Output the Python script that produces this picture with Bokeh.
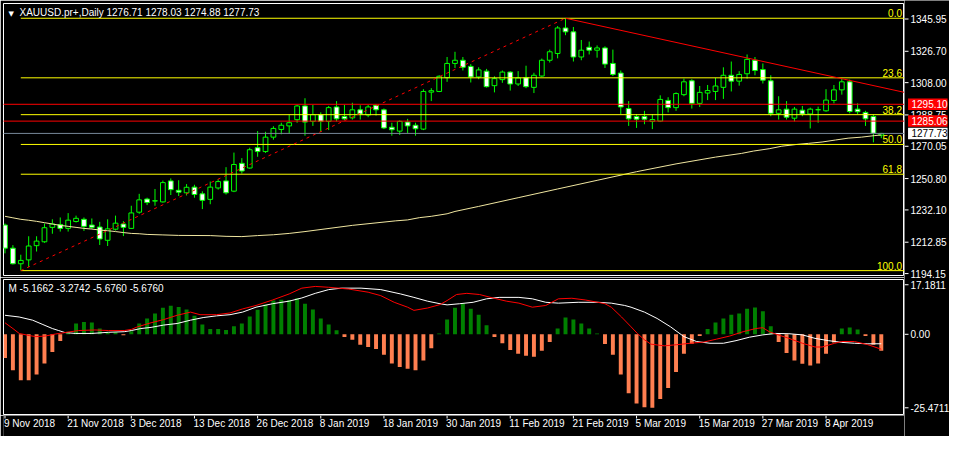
from bokeh.plotting import figure
from bokeh.models import Range1d, Label, LabelSet, ColumnDataSource
from bokeh.layouts import column, row
from bokeh.embed import file_html
from bokeh.resources import INLINE
from bokeh.core.properties import value

# ---------------- data ----------------
symbol_title = "XAUUSD.pr+,Daily  1276.71 1278.03 1274.88 1277.73"
macd_title = "M -5.1662 -3.2742 -5.6760 -5.6760"

opens = [1223.1, 1209.3, 1200.0, 1202.3, 1210.8, 1213.1, 1221.7, 1223.4, 1221.1, 1225.2,
         1226.5, 1223.1, 1221.9, 1214.0, 1220.6, 1223.7, 1221.1, 1230.75, 1238.6, 1237.4,
         1236.9, 1249.4, 1243.8, 1242.3, 1245.7, 1241.7, 1238.4, 1245.2, 1249.4, 1243.3,
         1259.9, 1257.1, 1269.2, 1266.9, 1275.5, 1280.1, 1282.2, 1285.9, 1294.1, 1284.9,
         1288.9, 1284.9, 1293.5, 1287.8, 1287.0, 1291.8, 1288.7, 1294.5, 1291.8, 1281.4,
         1279.1, 1284.5, 1282.6, 1280.3, 1302.35, 1302.75, 1311.0, 1319.45, 1321.35, 1317.7,
         1311.4, 1314.85, 1306.2, 1309.8, 1314.3, 1307.2, 1311.0, 1305.2, 1311.95, 1321.35,
         1325.4, 1340.6, 1338.3, 1323.3, 1329.1, 1327.35, 1328.7, 1319.45, 1313.7, 1292.55,
         1287.8, 1287.8, 1284.9, 1285.05, 1297.4, 1293.1, 1300.85, 1309.1, 1295.65, 1301.8,
         1302.75, 1305.2, 1312.4, 1308.9, 1313.3, 1321.35, 1315.8, 1309.1, 1289.7, 1292.2,
         1286.8, 1291.6, 1289.3, 1291.8, 1291.2, 1297.4, 1303.7, 1308.5, 1292.2, 1290.25,
         1287.8, 1276.71]
highs = [1224.0, 1211.1, 1205.4, 1216.4, 1216.4, 1224.0, 1226.5, 1227.6, 1230.2, 1228.7,
         1227.6, 1227.0, 1225.0, 1226.5, 1228.7, 1225.4, 1234.6, 1241.7, 1239.4, 1244.6,
         1249.6, 1250.9, 1249.8, 1247.5, 1247.1, 1243.2, 1249.0, 1250.3, 1257.6, 1266.3,
         1263.0, 1269.2, 1279.1, 1278.7, 1282.0, 1284.1, 1288.9, 1294.7, 1298.7, 1294.7,
         1290.3, 1294.1, 1297.0, 1294.7, 1296.0, 1294.5, 1294.7, 1295.1, 1292.6, 1284.1,
         1285.5, 1286.4, 1284.1, 1304.1, 1304.7, 1312.4, 1323.3, 1326.4, 1323.3, 1319.05,
         1317.15, 1316.2, 1311.8, 1315.25, 1314.85, 1314.85, 1318.1, 1313.9, 1322.35, 1327.7,
         1341.75, 1346.35, 1341.2, 1333.45, 1332.5, 1330.2, 1329.65, 1327.7, 1315.25, 1297.0,
         1289.3, 1291.2, 1289.3, 1300.45, 1299.3, 1302.2, 1310.4, 1310.05, 1306.0, 1306.6,
         1310.8, 1317.15, 1320.6, 1314.85, 1324.8, 1323.3, 1319.45, 1312.4, 1299.9, 1297.0,
         1293.5, 1294.1, 1293.1, 1293.7, 1304.1, 1306.6, 1310.4, 1309.8, 1295.65, 1291.2,
         1288.9, 1278.03]
lows = [1206.2, 1199.6, 1196.2, 1198.1, 1207.3, 1212.5, 1217.9, 1219.2, 1219.2, 1224.6,
        1219.6, 1220.8, 1211.2, 1210.6, 1219.8, 1216.5, 1220.8, 1229.8, 1235.0, 1234.6,
        1236.5, 1241.0, 1240.4, 1240.7, 1239.4, 1232.6, 1235.5, 1244.2, 1241.3, 1242.7,
        1253.8, 1256.7, 1263.8, 1266.1, 1274.0, 1277.2, 1277.8, 1284.1, 1276.4, 1282.2,
        1278.7, 1279.7, 1284.9, 1285.5, 1286.0, 1286.0, 1287.4, 1288.35, 1280.3, 1276.4,
        1276.8, 1278.0, 1276.4, 1279.7, 1297.0, 1302.35, 1308.5, 1316.75, 1315.25, 1308.1,
        1310.05, 1305.05, 1302.2, 1307.9, 1303.3, 1306.0, 1304.7, 1301.8, 1311.4, 1320.0,
        1322.5, 1336.3, 1320.6, 1321.35, 1324.8, 1322.9, 1316.75, 1311.95, 1289.3, 1282.2,
        1281.0, 1283.2, 1280.3, 1284.5, 1290.25, 1291.2, 1299.9, 1292.55, 1293.5, 1297.6,
        1297.6, 1298.3, 1302.75, 1306.2, 1310.4, 1312.4, 1307.5, 1288.0, 1286.0, 1286.0,
        1284.9, 1288.0, 1280.7, 1284.1, 1290.65, 1295.65, 1300.85, 1289.7, 1289.3, 1282.2,
        1272.4, 1274.88]
closes = [1209.3, 1200.0, 1202.0, 1210.6, 1213.5, 1221.5, 1223.7, 1221.1, 1226.0, 1227.1,
          1222.3, 1221.7, 1214.8, 1220.8, 1224.2, 1221.7, 1230.3, 1238.1, 1236.5, 1237.6,
          1248.4, 1244.2, 1242.7, 1245.6, 1241.3, 1237.8, 1245.7, 1249.0, 1242.3, 1259.2,
          1255.3, 1268.0, 1266.9, 1275.5, 1280.7, 1282.6, 1284.1, 1294.1, 1284.5, 1288.9,
          1284.9, 1293.1, 1286.4, 1286.4, 1291.8, 1289.3, 1293.5, 1291.8, 1281.0, 1279.9,
          1284.9, 1282.2, 1280.5, 1302.75, 1303.2, 1311.8, 1319.45, 1321.35, 1317.15, 1311.4,
          1315.6, 1305.6, 1310.4, 1314.3, 1307.2, 1310.8, 1305.6, 1312.4, 1321.35, 1326.4,
          1340.6, 1338.3, 1323.3, 1327.35, 1327.35, 1328.7, 1319.05, 1312.9, 1293.5, 1286.4,
          1286.2, 1286.2, 1286.0, 1298.0, 1293.1, 1301.5, 1308.5, 1295.65, 1302.2, 1303.3,
          1306.0, 1312.4, 1308.9, 1312.9, 1321.9, 1315.25, 1309.5, 1289.7, 1291.8, 1287.4,
          1292.2, 1289.3, 1292.2, 1291.9, 1297.6, 1303.7, 1308.5, 1290.8, 1290.65, 1286.4,
          1277.8, 1277.73]

date_ticks = [0, 8, 16, 24, 32, 40, 48, 56, 64, 72, 80, 88, 96, 104]
date_labels = ["9 Nov 2018", "21 Nov 2018", "3 Dec 2018", "13 Dec 2018", "26 Dec 2018",
               "8 Jan 2019", "18 Jan 2019", "30 Jan 2019", "11 Feb 2019", "21 Feb 2019",
               "5 Mar 2019", "15 Mar 2019", "27 Mar 2019", "8 Apr 2019"]
price_ticks = [1345.95, 1326.70, 1308.00, 1288.75, 1270.05, 1250.80, 1232.10, 1212.85, 1194.15]
price_tick_labels = ["1345.95", "1326.70", "1308.00", "1288.75", "1270.05", "1250.80",
                     "1232.10", "1212.85", "1194.15"]
macd_ticks = [17.1811, 0.0, -25.4711]
macd_tick_labels = ["17.1811", "0.00", "-25.4711"]

# moving average (bar index, price)
ma_x = [0, 1, 2, 3, 4, 5, 6, 7, 8, 9, 10, 11, 12, 13, 14, 15, 16, 17, 18, 20, 22, 26, 28, 30,
        32, 34, 36, 38, 44, 49.5, 51, 52.5, 54, 56, 57, 60, 65, 70, 75, 80, 85, 90, 93.3, 94.8,
        96.8, 98.4, 100.2, 101.8, 103.5, 105.2, 106.8, 108.5, 110.1, 111]
ma_y = [1228.3, 1227.4, 1226.5, 1225.95, 1225.3, 1224.5, 1223.7, 1222.9, 1222.3, 1221.7,
        1221.1, 1220.7, 1220.1, 1219.7, 1219.2, 1218.6, 1218.1, 1217.9, 1217.5, 1217.2,
        1216.9, 1216.8, 1216.35, 1216.2, 1216.8, 1217.3, 1218.1, 1219.2, 1222.9, 1225.6,
        1226.15, 1227.5, 1228.3, 1229.8, 1231.2, 1234.2, 1239.4, 1244.6, 1249.75, 1254.9,
        1259.55, 1263.6, 1265.8, 1267.2, 1268.6, 1270.1, 1271.1, 1271.8, 1272.6, 1273.8,
        1274.9, 1275.5, 1276.4, 1276.8]

hist = [-8.2, -12.5, -15.9, -15.9, -13.9, -10.1, -6.1, -2.3, 0.9, 3.75,
        4.3, 4.1, 2.0, 0.7, 0.7, -0.3, 1.1, 3.75, 5.5, 7.2,
        9.2, 9.9, 9.5, 8.6, 6.4, 3.4, 1.8, 1.8, 1.5, 2.8,
        3.75, 6.2, 8.5, 10.3, 11.7, 12.0, 11.9, 12.5, 10.6, 8.6,
        5.5, 3.4, 1.4, -0.9, -1.9, -3.6, -4.4, -5.1, -7.1, -10.1,
        -11.3, -11.9, -12.5, -9.1, -4.8, 0.3, 5.1, 9.2, 10.6, 8.9,
        6.8, 3.1, -0.9, -3.1, -5.4, -6.7, -7.4, -7.8, -5.7, -2.7,
        2.0, 5.8, 5.1, 3.75, 2.0, 0.3, -3.4, -7.1, -13.9, -20.4,
        -24.0, -25.3, -25.47, -22.4, -18.6, -13.1, -6.7, -3.3, -0.6, 1.8,
        4.1, 5.5, 6.8, 7.2, 8.9, 9.3, 8.0, 2.8, -2.7, -6.5,
        -9.1, -10.2, -10.8, -10.1, -6.7, -2.8, 2.0, 2.4, 1.7, -0.6,
        -3.6, -5.676]

white_x = [0, 1.8, 3.5, 4.7, 6.0, 6.8, 7.6, 8.9, 11.0, 13.1, 15.1, 16.0, 17.2, 18.5, 20.1,
           21.8, 23.5, 25.1, 26.8, 28.5, 30.1, 31.8, 33.9, 36.0, 37.6, 39.3, 41.0, 42.6, 45.1,
           47.6, 50.1, 51.8, 53.5, 55.1, 56.0, 57.6, 59.3, 61.0, 62.6, 65.1, 66.8, 68.5, 70.1,
           72.6, 75.1, 76.8, 78.5, 79.3, 81.0, 82.6, 84.3, 86.0, 87.6, 89.3, 91.0, 92.6, 94.3,
           96.0, 97.6, 99.3, 101.0, 102.6, 104.3, 106.0, 107.6, 109.3, 111]
white_y = [6.6, 6.0, 4.9, 3.5, 2.0, 1.3, 0.6, 0.3, 0.3, 0.7, 0.9, 1.3, 2.0, 2.4, 3.2,
           3.75, 4.9, 5.8, 6.4, 6.8, 7.7, 9.4, 10.6, 11.5, 12.6, 14.2, 15.5, 16.0, 16.0,
           15.5, 14.0, 12.8, 11.5, 10.6, 10.2, 10.6, 11.1, 12.3, 12.8, 12.8, 12.3, 11.1, 10.8,
           11.1, 11.1, 10.8, 10.0, 9.4, 7.7, 5.5, 2.6, -0.8, -2.5, -3.1, -3.1, -2.2, -1.0,
           -0.2, 0.3, 0.2, -0.2, -1.4, -2.2, -2.8, -3.1, -3.3, -3.2742]
red_x = [0, 1.0, 1.8, 3.1, 3.9, 5.1, 6.4, 7.6, 9.3, 11.4, 13.1, 15.1, 16.0, 16.8, 18.5,
         20.1, 21.8, 23.5, 24.7, 26.8, 28.5, 30.1, 31.8, 33.9, 36.0, 37.6, 39.3, 41.0, 43.5,
         46.0, 47.6, 49.3, 51.0, 51.8, 53.5, 55.1, 56.0, 57.2, 58.5, 60.1, 61.8, 63.5, 65.1,
         66.8, 68.5, 70.1, 71.8, 73.5, 75.1, 76.0, 76.8, 78.1, 79.3, 80.1, 81.0, 81.8, 83.5,
         85.1, 86.8, 88.5, 90.1, 91.8, 93.5, 95.1, 96.0, 96.8, 97.6, 99.3, 101.0, 102.6, 103.5,
         105.1, 106.0, 107.6, 109.3, 111]
red_y = [4.0, 2.0, 0.3, -0.45, -0.8, -0.6, 0.1, 0.6, 1.3, 1.5, 1.3, 1.3, 1.7, 2.6, 4.0,
         5.1, 6.6, 7.7, 6.8, 6.8, 7.4, 8.8, 10.0, 11.9, 14.0, 16.0, 16.6, 16.3, 15.7,
         14.6, 13.4, 11.1, 9.4, 8.3, 9.1, 10.3, 11.7, 13.8, 14.2, 13.8, 12.6, 11.5, 10.8,
         9.4, 10.0, 12.3, 12.5, 11.9, 11.1, 10.6, 9.4, 6.0, 2.6, 0.3, -1.9, -3.4, -4.0,
         -3.6, -3.1, -2.7, -1.7, -0.6, 0.9, 2.0, 2.3, 0.9, 0.1, -1.4, -3.1, -4.4, -4.4,
         -3.1, -2.5, -2.5, -3.6, -5.1662]

fib_low_x, fib_high_x = 2, 71
fib_low, fib_high = 1195.9, 1346.4
fib_levels = [0.0, 23.6, 38.2, 50.0, 61.8, 100.0]
fib_texts = ["0.0", "23.6", "38.2", "50.0", "61.8", "100.0"]
red_levels = [1295.10, 1285.06]
bid_price = 1277.73
trend_x = [71, 113.94]
trend_y = [1346.4, 1302.2]

# ---------------- layout constants ----------------
FONT = "Liberation Sans"
LIME = "#00FF00"
FW = 901                      # plot-area width
SW = 45                       # price-scale column width
TOTAL_H = 436
MAIN_TOP, MAIN_H, MAIN_BOT = 3, 272, 2
MACD_TOP, MACD_H, MACD_BOT = 2, 135, 1
DATE_H = TOTAL_H - (MAIN_TOP + MAIN_H + MAIN_BOT + MACD_TOP + MACD_H + MACD_BOT)
X0, X1 = -0.19, 113.94
PY0, PY1 = 1193.0, 1355.2
MY0, MY1 = -27.8, 19.0
PPU = FW / (X1 - X0)
xr = Range1d(X0, X1)


def panel(fh, yr, top, bottom):
    f = figure(frame_width=FW, frame_height=fh, x_range=xr, y_range=yr,
               output_backend="svg", toolbar_location=None, title=None,
               x_axis_location=None, y_axis_location=None,
               min_border_left=3, min_border_right=0, min_border_top=top,
               min_border_bottom=bottom)
    f.background_fill_color = "black"
    f.border_fill_color = "black"
    f.outline_line_color = "white"
    f.outline_line_width = 1
    f.grid.visible = False
    return f


# ---------------- main price panel ----------------
p = panel(MAIN_H, Range1d(PY0, PY1), MAIN_TOP, MAIN_BOT)

idx = list(range(len(opens)))
src = ColumnDataSource(dict(
    x=idx, h=highs, l=lows,
    top=[max(o, c) for o, c in zip(opens, closes)],
    bot=[min(o, c) for o, c in zip(opens, closes)],
    fill=["black" if c >= o else "white" for o, c in zip(opens, closes)]))
p.segment(x0="x", y0="h", x1="x", y1="l", line_color=LIME, line_width=1, source=src)
p.vbar(x="x", top="top", bottom="bot", width=0.6, fill_color="fill",
       line_color=LIME, line_width=1, source=src)

p.line(ma_x, ma_y, line_color="#F0E6A0", line_width=1)

fib_prices = [fib_high - lv / 100.0 * (fib_high - fib_low) for lv in fib_levels]
p.segment(x0=[fib_low_x] * len(fib_prices), x1=[X1 + 5] * len(fib_prices),
          y0=fib_prices, y1=fib_prices, line_color="#FFFF00", line_width=1)
fib_src = ColumnDataSource(dict(x=[X1 - 2.5 / PPU] * len(fib_prices), y=fib_prices, t=fib_texts))
p.add_layout(LabelSet(x="x", y="y", text="t", source=fib_src, text_color="#FFFF00",
                      text_font=value(FONT), text_font_size="10px",
                      text_align="right", text_baseline="bottom", y_offset=1))

p.segment(x0=[X0 - 5] * 2, x1=[X1 + 5] * 2, y0=red_levels, y1=red_levels,
          line_color="#FF0000", line_width=1)
p.segment(x0=[X0 - 5], x1=[X1 + 5], y0=[bid_price], y1=[bid_price],
          line_color="#778899", line_width=1)

p.line([fib_low_x, fib_high_x], [fib_low, fib_high], line_color="#FF0000",
       line_width=1, line_dash="3 4")
p.line(trend_x, trend_y, line_color="#FF0000", line_width=1)

p.add_layout(Label(x=5, y=MAIN_H - 10, x_units="screen", y_units="screen", text="\u25BC",
                   text_color="white", text_font="DejaVu Sans", text_font_size="7px",
                   text_baseline="middle"))
p.add_layout(Label(x=16, y=MAIN_H - 9, x_units="screen", y_units="screen", text=symbol_title,
                   text_color="white", text_font=FONT, text_font_size="10px",
                   text_baseline="middle"))

# ---------------- MACD panel ----------------
q = panel(MACD_H, Range1d(MY0, MY1), MACD_TOP, MACD_BOT)
hsrc = ColumnDataSource(dict(x=idx, top=hist,
                             color=["#008000" if v > 0 else "#FF7F50" for v in hist]))
q.vbar(x="x", top="top", bottom=0, width=0.5, fill_color="color", line_color=None,
       source=hsrc)
q.line(white_x, white_y, line_color="white", line_width=1)
q.line(red_x, red_y, line_color="#FF0000", line_width=1)
q.add_layout(Label(x=5, y=MACD_H - 9, x_units="screen", y_units="screen", text=macd_title,
                   text_color="white", text_font=FONT, text_font_size="10px",
                   text_baseline="middle"))

# ---------------- date scale ----------------
d = figure(frame_width=FW, frame_height=DATE_H, x_range=xr, y_range=Range1d(0, DATE_H),
           output_backend="svg", toolbar_location=None, title=None,
           x_axis_location=None, y_axis_location=None,
           min_border_left=3, min_border_right=0, min_border_top=0, min_border_bottom=0)
d.background_fill_color = "black"
d.border_fill_color = "black"
d.outline_line_color = None
d.grid.visible = False
d.segment(x0=date_ticks, x1=date_ticks, y0=[DATE_H] * len(date_ticks),
          y1=[DATE_H - 3] * len(date_ticks), line_color="white", line_width=1)
d.text(x=date_ticks, y=[DATE_H - 8] * len(date_ticks), text=date_labels,
       text_color="white", text_font=value(FONT), text_font_size="10px",
       text_align="left", text_baseline="middle", x_offset=-1)

# ---------------- price scale column (spans both panels) ----------------
sp = (PY1 - PY0) / MAIN_H
below_main = TOTAL_H - MAIN_TOP - MAIN_H
side_price = Range1d(PY0 - below_main * sp, PY1 + MAIN_TOP * sp)
sm = (MY1 - MY0) / MACD_H
macd_top_px = MAIN_TOP + MAIN_H + MAIN_BOT + MACD_TOP
below_macd = TOTAL_H - macd_top_px - MACD_H
side_macd = Range1d(MY0 - below_macd * sm, MY1 + macd_top_px * sm)

s = figure(frame_width=SW, frame_height=TOTAL_H, x_range=Range1d(0, SW), y_range=side_price,
           output_backend="svg", toolbar_location=None, title=None,
           x_axis_location=None, y_axis_location=None,
           min_border_left=0, min_border_right=0, min_border_top=0, min_border_bottom=0)
s.extra_y_ranges = {"macd": side_macd}
s.background_fill_color = "black"
s.border_fill_color = "black"
s.outline_line_color = None
s.grid.visible = False

s.segment(x0=[0] * len(price_ticks), x1=[4] * len(price_ticks), y0=price_ticks,
          y1=price_ticks, line_color="white", line_width=1)
s.text(x=[6] * len(price_ticks), y=price_ticks, text=price_tick_labels, text_color="white",
       text_font=value(FONT), text_font_size="10px", text_align="left",
       text_baseline="middle")

marker_prices = red_levels + [bid_price]
marker_texts = ["%.2f" % v for v in marker_prices]
s.rect(x=[23.3] * 3, y=marker_prices, width=39.5, height=11.5, height_units="screen",
       fill_color=["#FF0000", "#FF0000", "white"], line_color=None)
s.text(x=[7] * 3, y=marker_prices, text=marker_texts,
       text_color=["white", "white", "black"], text_font=value(FONT),
       text_font_size="10px", text_align="left", text_baseline="middle")

s.segment(x0=[0] * 3, x1=[4] * 3, y0=macd_ticks, y1=macd_ticks, line_color="white",
          line_width=1, y_range_name="macd")
s.text(x=[6] * 3, y=macd_ticks, text=macd_tick_labels, text_color="white",
       text_font=value(FONT), text_font_size="10px", text_align="left",
       text_baseline="middle", y_range_name="macd")

layout = row(column(p, q, d, spacing=0), s, spacing=0)
open("out.html", "w").write(file_html(layout, INLINE))
